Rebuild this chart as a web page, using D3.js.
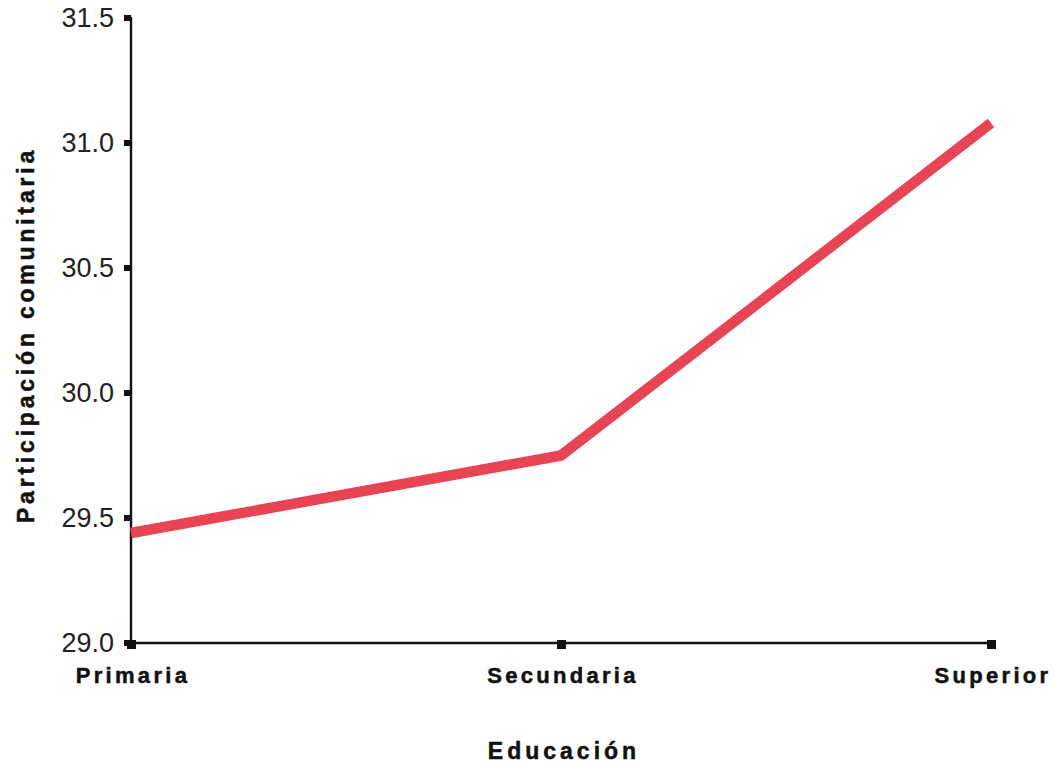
<!DOCTYPE html>
<html>
<head>
<meta charset="utf-8">
<script src="https://cdn.jsdelivr.net/npm/d3@7"></script>
<style>
  html, body { margin: 0; padding: 0; background: #fff; }
  svg { display: block; }
</style>
</head>
<body>
<svg id="chart" width="1054" height="763"></svg>
<script>
const categories = ["Primaria", "Secundaria", "Superior"];
const values = [29.44, 29.75, 31.08];
const yTicks = [29.0, 29.5, 30.0, 30.5, 31.0, 31.5];
const yTitle = "Participación comunitaria";
const xTitle = "Educación";

(function () {
const svg = d3.select("#chart");
const mLeft = 131, mRight = 991, mTop = 18, mBottom = 643;

const x = d3.scalePoint().domain(categories).range([mLeft, mRight]);
const y = d3.scaleLinear().domain([29.0, 31.5]).range([mBottom, mTop]);

// y axis
const yAxis = svg.append("g");
yAxis.append("line")
  .attr("x1", mLeft).attr("x2", mLeft)
  .attr("y1", y(31.5) - 1).attr("y2", y(29.0) + 3)
  .attr("stroke", "#111").attr("stroke-width", 2.4);
yAxis.selectAll("rect.tk").data(yTicks).enter().append("rect")
  .attr("x", mLeft - 7).attr("y", d => y(d) - 3)
  .attr("width", 7).attr("height", 6).attr("fill", "#111");
yAxis.selectAll("text").data(yTicks).enter().append("text")
  .attr("x", mLeft - 17).attr("y", d => y(d) + 9)
  .attr("text-anchor", "end")
  .attr("font-family", "Liberation Sans, Arial, sans-serif")
  .attr("font-size", 27).attr("fill", "#222")
  .text(d => d3.format(".1f")(d));

// x axis
const xAxis = svg.append("g");
xAxis.append("line")
  .attr("x1", mLeft - 1).attr("x2", mRight + 3)
  .attr("y1", mBottom).attr("y2", mBottom)
  .attr("stroke", "#111").attr("stroke-width", 2.4);
xAxis.selectAll("rect.tk").data(categories).enter().append("rect")
  .attr("x", d => x(d) - 4).attr("y", mBottom - 3)
  .attr("width", 9).attr("height", 9).attr("fill", "#111");
xAxis.selectAll("text").data(categories).enter().append("text")
  .attr("x", d => x(d) + 2)
  .attr("y", 683)
  .attr("text-anchor", "middle")
  .attr("font-family", "Liberation Sans, Arial, sans-serif")
  .attr("font-weight", "bold")
  .attr("font-size", 22)
  .attr("letter-spacing", 3.3)
  .attr("fill", "#111").attr("stroke", "#111").attr("stroke-width", 0.5)
  .text(d => d);

// line
const line = d3.line()
  .x((d, i) => x(categories[i]))
  .y(d => y(d));
svg.append("path")
  .datum(values)
  .attr("d", line)
  .attr("fill", "none")
  .attr("stroke", "#e84454")
  .attr("stroke-width", 10.5)
  .attr("stroke-linejoin", "round");

// titles
svg.append("text")
  .attr("transform", "translate(34,335) rotate(-90)")
  .attr("text-anchor", "middle")
  .attr("font-family", "Liberation Sans, Arial, sans-serif")
  .attr("font-weight", "bold")
  .attr("font-size", 23)
  .attr("letter-spacing", 3.8)
  .attr("fill", "#111").attr("stroke", "#111").attr("stroke-width", 0.5)
  .text(yTitle);

svg.append("text")
  .attr("x", 564).attr("y", 759)
  .attr("text-anchor", "middle")
  .attr("font-family", "Liberation Sans, Arial, sans-serif")
  .attr("font-weight", "bold")
  .attr("font-size", 23)
  .attr("letter-spacing", 4)
  .attr("fill", "#111").attr("stroke", "#111").attr("stroke-width", 0.5)
  .text(xTitle);
})();
</script>
</body>
</html>
